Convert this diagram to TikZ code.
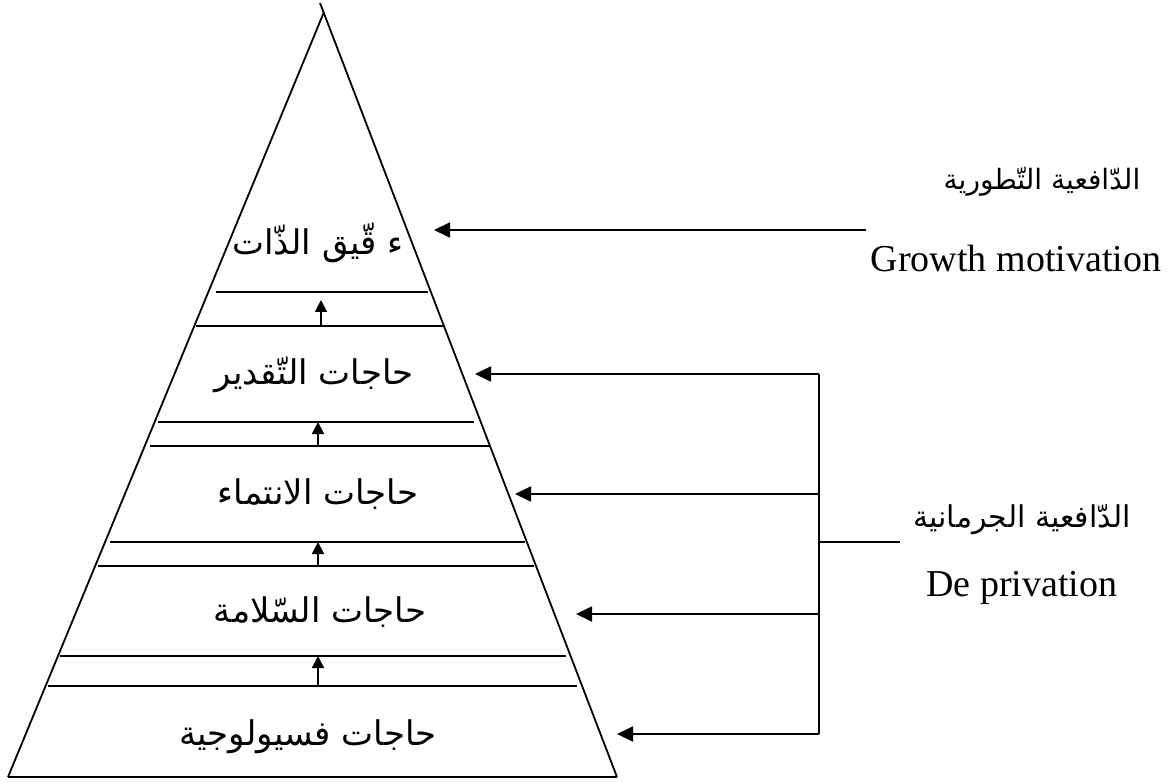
\documentclass[tikz,border=0pt]{standalone}
\usepackage{fontspec}
\setmainfont{Liberation Serif}
\newfontfamily\arabicfont[Script=Arabic]{DejaVu Sans}
\TeXXeTstate=1
\usetikzlibrary{arrows.meta}
\begin{document}
\begin{tikzpicture}[x=1pt,y=-1pt,line width=1.8pt,
  bigarrow/.style={-{Triangle[length=16pt,width=15pt]}},
  smallarrow/.style={-{Triangle[length=12pt,width=12pt]}},
  ar/.style={font=\arabicfont\fontsize{34}{40}\selectfont,inner sep=0pt},
  arside/.style={font=\arabicfont\fontsize{30}{36}\selectfont,inner sep=0pt},
  en/.style={font=\fontsize{38}{42}\selectfont,inner sep=0pt}]
\useasboundingbox (0,0) rectangle (1169,783);
% pyramid
\coordinate (apex) at (324,12);
\coordinate (tick) at (320,3);
\coordinate (bl) at (8,777);
\coordinate (br) at (617,777);
\draw (bl) -- (apex);
\draw (br) -- (tick);
\draw (bl) -- (br);
% level lines
\draw (216,292) -- (428,292);
\draw (196,326) -- (445,326);
\draw (158,422) -- (474,422);
\draw (150,446) -- (490,446);
\draw (110,542) -- (525,542);
\draw (98,566) -- (534,566);
\draw (60,656) -- (566,656);
\draw (48,686) -- (577,686);
% up arrows
\coordinate (u1s) at (321,326); \coordinate (u1e) at (321,300);
\coordinate (u2s) at (318,446); \coordinate (u2e) at (318,422);
\coordinate (u3s) at (318,566); \coordinate (u3e) at (318,542);
\coordinate (u4s) at (318,686); \coordinate (u4e) at (318,656);
\draw[smallarrow] (u1s) -- (u1e);
\draw[smallarrow] (u2s) -- (u2e);
\draw[smallarrow] (u3s) -- (u3e);
\draw[smallarrow] (u4s) -- (u4e);
% level labels
\node[ar] (t1) at (318,243) {\beginR ء قّيق الذّات\endR};
\node[ar] (t2) at (314,375) {\beginR حاجات التّقدير\endR};
\node[ar] (t3) at (318,494) {\beginR حاجات الانتماء\endR};
\node[ar] (t4) at (320,612) {\beginR حاجات السّلامة\endR};
\node[ar] (t5) at (308,737) {\beginR حاجات فسيولوجية\endR};
% growth motivation
\node[arside,font=\arabicfont\fontsize{28}{34}\selectfont] (g1) at (1042,182) {\beginR الدّافعية التّطورية\endR};
\node[en,anchor=base] (g2) at (1016,272) {Growth motivation};
\coordinate (gs) at (866,230);
\coordinate (ge) at (434,230);
\draw[bigarrow] (gs) -- (ge);
% deprivation motivation
\node[arside] (d1) at (1022,520) {\beginR الدّافعية الجرمانية\endR};
\node[en,anchor=base] (d2) at (1022,596) {De privation};
\coordinate (v1) at (819,374);
\coordinate (v2) at (819,494);
\coordinate (v3) at (819,614);
\coordinate (v4) at (819,734);
\coordinate (vm) at (819,542);
\coordinate (vme) at (900,542);
\coordinate (e1) at (475,374);
\coordinate (e2) at (515,494);
\coordinate (e3) at (576,614);
\coordinate (e4) at (617,734);
\draw (v1) -- (v4);
\draw (vm) -- (vme);
\draw[bigarrow] (v1) -- (e1);
\draw[bigarrow] (v2) -- (e2);
\draw[bigarrow] (v3) -- (e3);
\draw[bigarrow] (v4) -- (e4);
\end{tikzpicture}
\end{document}
